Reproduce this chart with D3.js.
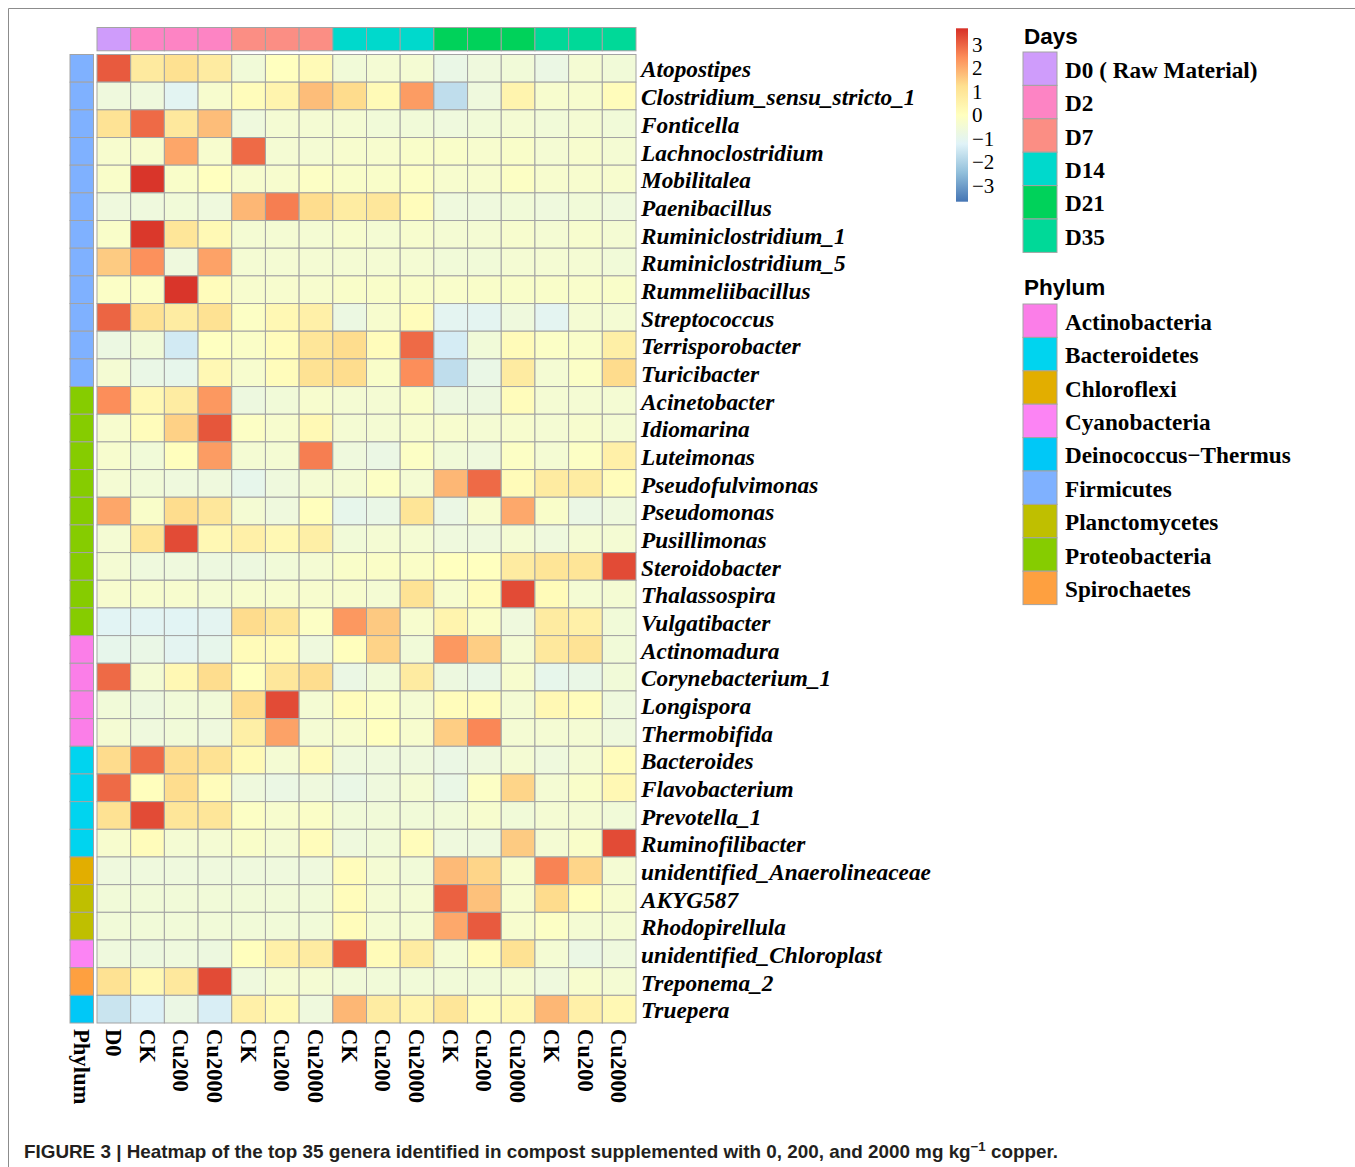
<!DOCTYPE html>
<html>
<head>
<meta charset="utf-8">
<script src="https://cdn.jsdelivr.net/npm/d3@7"></script>
<style>
    body { margin: 0; background: #ffffff; }
</style>
</head>
<body>
<div id="heatmap"></div>
<script>
/*
    Heatmap of the top 35 genera (row scaled) with Days and Phylum annotations
 */

// row names, top to bottom
const genera = [
    "Atopostipes", "Clostridium_sensu_stricto_1", "Fonticella", "Lachnoclostridium",
    "Mobilitalea", "Paenibacillus", "Ruminiclostridium_1", "Ruminiclostridium_5",
    "Rummeliibacillus", "Streptococcus", "Terrisporobacter", "Turicibacter",
    "Acinetobacter", "Idiomarina", "Luteimonas", "Pseudofulvimonas", "Pseudomonas",
    "Pusillimonas", "Steroidobacter", "Thalassospira", "Vulgatibacter",
    "Actinomadura", "Corynebacterium_1", "Longispora", "Thermobifida",
    "Bacteroides", "Flavobacterium", "Prevotella_1", "Ruminofilibacter",
    "unidentified_Anaerolineaceae", "AKYG587", "Rhodopirellula",
    "unidentified_Chloroplast", "Treponema_2", "Truepera"
];

// phylum of each row
const generaPhylum = [
    "Firmicutes", "Firmicutes", "Firmicutes", "Firmicutes", "Firmicutes", "Firmicutes",
    "Firmicutes", "Firmicutes", "Firmicutes", "Firmicutes", "Firmicutes", "Firmicutes",
    "Proteobacteria", "Proteobacteria", "Proteobacteria", "Proteobacteria", "Proteobacteria",
    "Proteobacteria", "Proteobacteria", "Proteobacteria", "Proteobacteria",
    "Actinobacteria", "Actinobacteria", "Actinobacteria", "Actinobacteria",
    "Bacteroidetes", "Bacteroidetes", "Bacteroidetes", "Bacteroidetes",
    "Chloroflexi", "Planctomycetes", "Planctomycetes",
    "Cyanobacteria", "Spirochaetes", "Deinococcus\u2212Thermus"
];

// columns
const sampleLabels = ["D0", "CK", "Cu200", "Cu2000", "CK", "Cu200", "Cu2000", "CK", "Cu200",
    "Cu2000", "CK", "Cu200", "Cu2000", "CK", "Cu200", "Cu2000"];
const sampleDays = ["D0", "D2", "D2", "D2", "D7", "D7", "D7", "D14", "D14", "D14",
    "D21", "D21", "D21", "D35", "D35", "D35"];

const dayNames = ["D0", "D2", "D7", "D14", "D21", "D35"];
const dayLabels = ["D0 ( Raw Material)", "D2", "D7", "D14", "D21", "D35"];
const dayColors = ["#CF9CFB", "#FD84C4", "#FB8E84", "#00D9CC", "#00D25A", "#00D998"];

const phylumNames = ["Actinobacteria", "Bacteroidetes", "Chloroflexi", "Cyanobacteria",
    "Deinococcus\u2212Thermus", "Firmicutes", "Planctomycetes", "Proteobacteria", "Spirochaetes"];
const phylumColors = ["#FB7EE8", "#00D4EF", "#E2AE00", "#FC84F4", "#00C8F7",
    "#7FB1FF", "#BFBF00", "#86CC00", "#FEA040"];

const scaleTicks = [3, 2, 1, 0, -1, -2, -3];
const scaleRange = [-3.7, 3.7];
const heatColors = ["#4575B4", "#91BFDB", "#E0F3F8", "#FFFFBF", "#FEE090", "#FC8D59", "#D73027"];

// row scaled abundance (z-score), one array per genus
const values = [
    [3.14, 0.85, 1.2, 0.8, -0.55, 0.0, 0.2, -0.55, -0.45, -0.44, -0.85, -0.65, -0.55, -0.8, -0.44, -0.55],
    [-0.65, -0.65, -1.1, -0.33, 0.1, 0.45, 1.75, 1.3, 0.2, 2.25, -1.75, -0.65, 0.45, -0.33, -0.33, 0.1],
    [1.1, 2.93, 0.9, 1.75, -0.65, -0.44, -0.44, -0.44, -0.55, -0.55, -0.65, -0.55, -0.44, -0.55, -0.44, -0.55],
    [-0.33, -0.33, 2.1, -0.33, 2.93, -0.44, -0.44, -0.33, -0.33, -0.22, -0.22, -0.33, -0.22, -0.44, -0.33, -0.44],
    [-0.22, 3.63, -0.22, 0.0, -0.33, -0.33, -0.12, -0.22, -0.22, -0.12, -0.33, -0.33, -0.1, -0.33, -0.33, -0.33],
    [-0.65, -0.65, -0.55, -0.65, 1.85, 2.66, 1.28, 0.75, 0.95, 0.1, -0.65, -0.65, -0.55, -0.65, -0.55, -0.65],
    [-0.22, 3.6, 1.0, 0.25, -0.44, -0.44, -0.44, -0.33, -0.44, -0.33, -0.44, -0.44, -0.33, -0.44, -0.33, -0.44],
    [1.55, 2.4, -0.65, 2.15, -0.44, -0.44, -0.44, -0.44, -0.44, -0.44, -0.55, -0.55, -0.44, -0.44, -0.44, -0.55],
    [-0.15, -0.15, 3.63, 0.1, -0.33, -0.33, -0.33, -0.22, -0.22, -0.22, -0.25, -0.22, -0.22, -0.22, -0.25, -0.22],
    [3.0, 1.15, 0.75, 1.15, -0.12, 0.28, 0.6, -0.75, -0.33, 0.1, -1.08, -1.08, -0.65, -1.08, -0.44, -0.44],
    [-0.75, -0.55, -1.45, -0.05, -0.18, 0.1, 1.0, 1.28, 0.1, 2.93, -1.4, -0.55, 0.15, -0.15, -0.22, 0.65],
    [-0.44, -0.85, -0.96, 0.28, -0.33, 0.1, 1.15, 1.28, -0.22, 2.45, -1.75, -0.85, 0.8, -0.44, -0.15, 1.3],
    [2.45, 0.28, 0.75, 2.3, -0.7, -0.55, -0.33, -0.44, -0.44, -0.22, -0.7, -0.7, 0.1, -0.44, -0.44, -0.44],
    [-0.33, 0.1, 1.45, 3.2, -0.12, -0.33, 0.25, -0.44, -0.44, -0.33, -0.33, -0.44, -0.33, -0.44, -0.33, -0.44],
    [-0.33, -0.55, 0.05, 2.25, -0.44, -0.44, 2.66, -0.65, -0.8, -0.12, -0.55, -0.65, -0.12, -0.44, -0.12, 0.6],
    [-0.44, -0.55, -0.65, -0.65, -0.96, -0.65, -0.44, -0.44, -0.12, -0.44, 1.85, 2.93, 0.15, 0.8, 0.75, 0.1],
    [2.1, -0.22, 1.28, 0.95, -0.44, -0.65, 0.05, -0.96, -0.85, 1.05, -0.8, -0.33, 2.06, -0.22, -0.8, -0.65],
    [-0.44, 1.05, 3.34, 0.28, 0.6, 0.28, 0.65, -0.55, -0.44, -0.44, -0.65, -0.65, -0.44, -0.65, -0.44, -0.44],
    [-0.44, -0.65, -0.65, -0.7, -0.7, -0.55, -0.44, -0.22, -0.18, -0.18, 0.0, 0.0, 0.8, 1.05, 1.05, 3.34],
    [-0.33, -0.33, -0.33, -0.44, -0.33, -0.33, -0.33, -0.33, -0.44, 1.1, -0.33, 0.1, 3.34, 0.15, -0.44, -0.44],
    [-1.15, -1.12, -1.15, -1.08, 1.3, 1.0, -0.12, 2.3, 1.58, -0.33, 0.45, -0.18, -0.65, 0.8, 0.6, -0.55],
    [-0.96, -0.85, -1.08, -0.96, 0.15, 0.15, -0.65, 0.05, 1.42, -0.55, 2.3, 1.5, -0.44, 0.9, 1.1, -0.55],
    [2.93, -0.44, 0.28, 1.28, 0.0, 0.95, 1.28, -0.8, -0.55, 0.8, -0.7, -0.85, -0.33, -0.96, -0.85, -0.55],
    [-0.55, -0.7, -0.55, -0.55, 1.3, 3.34, -0.44, 0.1, -0.12, -0.44, 0.1, 0.1, -0.44, 0.28, 0.1, -0.65],
    [-0.44, -0.65, -0.55, -0.65, 0.65, 2.16, -0.44, -0.33, 0.0, -0.33, 1.5, 2.55, -0.44, -0.44, -0.44, -0.65],
    [1.3, 2.93, 1.28, 1.15, 0.2, -0.44, 0.15, -0.65, -0.65, -0.65, -0.8, -0.65, -0.44, -0.65, -0.44, 0.1],
    [2.93, 0.05, 1.28, 0.1, -0.65, -0.8, -0.65, -0.85, -0.65, -0.44, -0.85, -0.12, 1.4, -0.44, -0.22, 0.28],
    [1.15, 3.34, 1.0, 1.0, -0.12, -0.33, -0.18, -0.55, -0.55, -0.55, -0.55, -0.33, -0.55, -0.44, -0.44, -0.55],
    [-0.33, 0.1, -0.44, -0.44, -0.22, -0.44, 0.1, -0.65, -0.55, 0.1, -0.65, -0.65, 1.55, -0.44, -0.22, 3.34],
    [-0.65, -0.65, -0.65, -0.65, -0.65, -0.65, -0.65, 0.1, -0.44, -0.55, 1.8, 1.4, -0.33, 2.6, 1.4, -0.44],
    [-0.55, -0.55, -0.55, -0.55, -0.55, -0.55, -0.55, 0.1, -0.44, -0.44, 3.05, 1.7, -0.33, 1.3, 0.05, -0.33],
    [-0.55, -0.55, -0.55, -0.55, -0.55, -0.55, -0.55, 0.1, -0.44, -0.44, 2.06, 3.14, -0.33, -0.12, -0.44, -0.44],
    [-0.65, -0.7, -0.65, -0.7, 0.05, 0.6, 0.8, 3.1, 0.15, 0.75, -0.44, 0.1, 1.15, -0.44, -0.8, -0.65],
    [1.15, 0.28, 0.9, 3.34, -0.65, -0.44, -0.44, -0.55, -0.55, -0.55, -0.55, -0.55, -0.44, -0.65, -0.33, -0.44],
    [-1.6, -1.3, -0.8, -1.35, 0.6, 0.25, -0.65, 1.85, 0.75, 0.45, 1.0, 0.1, 0.28, 1.85, 0.6, 0.28]
];

class HeatmapMain {
    constructor() {
        var self = this;
        self.width = 1355;
        self.height = 1167;
        self.grid = {left: 97, right: 636, top: 54.5, bottom: 1023};
        self.borderColor = "#A3A3A3";
        self.serif = "'Liberation Serif', 'Times New Roman', serif";
        self.sans = "'Liberation Sans', Arial, sans-serif";
        self.init();
    }

    init() {
        var self = this;

        self.svg = d3.select("#heatmap").append("svg")
            .attr("width", self.width)
            .attr("height", self.height)
            .style("display", "block");

        // figure frame (left and top edges)
        self.svg.append("path")
            .attr("d", "M8.5," + self.height + "V8.5H" + self.width)
            .attr("fill", "none")
            .attr("stroke", "#8c8c8c")
            .attr("stroke-width", 1);

        self.xScale = d3.scaleBand()
            .domain(d3.range(sampleLabels.length))
            .range([self.grid.left, self.grid.right]);

        self.yScale = d3.scaleBand()
            .domain(genera)
            .range([self.grid.top, self.grid.bottom]);

        var step = (scaleRange[1] - scaleRange[0]) / (heatColors.length - 1);
        self.colorScale = d3.scaleLinear()
            .domain(heatColors.map(function(c, i) { return scaleRange[0] + i * step; }))
            .range(heatColors);

        self.dayColor = d3.scaleOrdinal().domain(dayNames).range(dayColors);
        self.phylumColor = d3.scaleOrdinal().domain(phylumNames).range(phylumColors);

        self.drawCells();
        self.drawAnnotations();
        self.drawLabels();
        self.drawColorLegend();
        self.drawAnnotationLegends();
        self.drawCaption();
    }

    drawCells() {
        var self = this;
        var cells = [];
        values.forEach(function(row, r) {
            row.forEach(function(v, c) {
                cells.push({genus: genera[r], col: c, value: v});
            });
        });

        self.svg.append("g")
            .attr("class", "cells")
            .selectAll("rect")
            .data(cells)
            .enter().append("rect")
            .attr("x", function(d) { return self.xScale(d.col); })
            .attr("y", function(d) { return self.yScale(d.genus); })
            .attr("width", self.xScale.bandwidth())
            .attr("height", self.yScale.bandwidth())
            .attr("fill", function(d) { return self.colorScale(d.value); })
            .attr("stroke", self.borderColor)
            .attr("stroke-width", 1);
    }

    drawAnnotations() {
        var self = this;

        // Days row on top
        self.svg.append("g")
            .attr("class", "day-annotation")
            .selectAll("rect")
            .data(sampleDays)
            .enter().append("rect")
            .attr("x", function(d, i) { return self.xScale(i); })
            .attr("y", 27.5)
            .attr("width", self.xScale.bandwidth())
            .attr("height", 23.3)
            .attr("fill", function(d) { return self.dayColor(d); })
            .attr("stroke", self.borderColor)
            .attr("stroke-width", 1);

        // Phylum column on the left
        self.svg.append("g")
            .attr("class", "phylum-annotation")
            .selectAll("rect")
            .data(genera)
            .enter().append("rect")
            .attr("x", 70)
            .attr("y", function(d) { return self.yScale(d); })
            .attr("width", 23.5)
            .attr("height", self.yScale.bandwidth())
            .attr("fill", function(d, i) { return self.phylumColor(generaPhylum[i]); })
            .attr("stroke", self.borderColor)
            .attr("stroke-width", 1);
    }

    drawLabels() {
        var self = this;

        // genus names, bold italic
        self.svg.append("g")
            .attr("class", "row-labels")
            .selectAll("text")
            .data(genera)
            .enter().append("text")
            .attr("x", self.grid.right + 5)
            .attr("y", function(d) { return self.yScale(d) + self.yScale.bandwidth() / 2 + 1; })
            .attr("dy", "0.35em")
            .style("font-family", self.serif)
            .style("font-size", "23.3px")
            .style("font-weight", "bold")
            .style("font-style", "italic")
            .text(function(d) { return d; });

        // sample names, rotated
        var colLabels = self.svg.append("g").attr("class", "col-labels");
        colLabels.selectAll("text")
            .data(sampleLabels)
            .enter().append("text")
            .attr("transform", function(d, i) {
                return "translate(" + (self.xScale(i) + self.xScale.bandwidth() / 2) + "," + (self.grid.bottom + 6) + ") rotate(90)";
            })
            .attr("dy", "0.35em")
            .style("font-family", self.serif)
            .style("font-size", "22.6px")
            .style("font-weight", "bold")
            .text(function(d) { return d; });

        colLabels.append("text")
            .attr("transform", "translate(" + (70 + 23.5 / 2) + "," + (self.grid.bottom + 6) + ") rotate(90)")
            .attr("dy", "0.35em")
            .style("font-family", self.serif)
            .style("font-size", "22.6px")
            .style("font-weight", "bold")
            .text("Phylum");
    }

    drawColorLegend() {
        var self = this;
        var top = 28.3, bottom = 201.7, x = 956, w = 12;

        var legendScale = d3.scaleLinear()
            .domain(scaleRange)
            .range([bottom, top]);

        var grad = self.svg.append("defs").append("linearGradient")
            .attr("id", "heatGrad")
            .attr("x1", 0).attr("y1", 1)
            .attr("x2", 0).attr("y2", 0);

        grad.selectAll("stop")
            .data(self.colorScale.domain())
            .enter().append("stop")
            .attr("offset", function(d, i) { return i / (heatColors.length - 1); })
            .attr("stop-color", function(d) { return self.colorScale(d); });

        self.svg.append("rect")
            .attr("x", x)
            .attr("y", top)
            .attr("width", w)
            .attr("height", bottom - top)
            .attr("fill", "url(#heatGrad)");

        self.svg.append("g")
            .attr("class", "color-ticks")
            .selectAll("text")
            .data(scaleTicks)
            .enter().append("text")
            .attr("x", x + w + 4)
            .attr("y", function(d) { return legendScale(d); })
            .attr("dy", "0.35em")
            .style("font-family", self.serif)
            .style("font-size", "21px")
            .text(function(d) { return d < 0 ? "\u2212" + Math.abs(d) : d; });
    }

    drawAnnotationLegends() {
        var self = this;
        var boxX = 1023, boxW = 34, boxH = 33.4;

        var groups = [
            {title: "Days", titleY: 44, top: 52, names: dayLabels, colors: dayColors},
            {title: "Phylum", titleY: 295, top: 304, names: phylumNames, colors: phylumColors}
        ];

        groups.forEach(function(g) {
            self.svg.append("text")
                .attr("x", boxX + 1)
                .attr("y", g.titleY)
                .style("font-family", self.sans)
                .style("font-size", "22.5px")
                .style("font-weight", "bold")
                .text(g.title);

            var legend = self.svg.append("g").attr("class", "legend-" + g.title);

            legend.selectAll("rect")
                .data(g.names)
                .enter().append("rect")
                .attr("x", boxX)
                .attr("y", function(d, i) { return g.top + i * boxH; })
                .attr("width", boxW)
                .attr("height", boxH)
                .attr("fill", function(d, i) { return g.colors[i]; })
                .attr("stroke", self.borderColor)
                .attr("stroke-width", 1);

            legend.selectAll("text")
                .data(g.names)
                .enter().append("text")
                .attr("x", boxX + boxW + 8)
                .attr("y", function(d, i) { return g.top + i * boxH + boxH / 2 + 1; })
                .attr("dy", "0.35em")
                .style("font-family", self.serif)
                .style("font-size", "23.2px")
                .style("font-weight", "bold")
                .text(function(d) { return d; });
        });
    }

    drawCaption() {
        var self = this;
        var caption = self.svg.append("text")
            .attr("x", 24)
            .attr("y", 1158)
            .attr("textLength", 1034)
            .attr("lengthAdjust", "spacingAndGlyphs")
            .style("font-family", "'Liberation Sans Narrow', 'Arial Narrow', " + self.sans)
            .style("font-size", "18.5px")
            .style("font-weight", "bold")
            .style("fill", "#231f20");

        caption.append("tspan").text("FIGURE 3 | Heatmap of the top 35 genera identified in compost supplemented with 0, 200, and 2000 mg kg");
        caption.append("tspan").attr("dy", -7).style("font-size", "13px").text("\u22121");
        caption.append("tspan").attr("dy", 7).text(" copper.");
    }
}

new HeatmapMain();
</script>
</body>
</html>
